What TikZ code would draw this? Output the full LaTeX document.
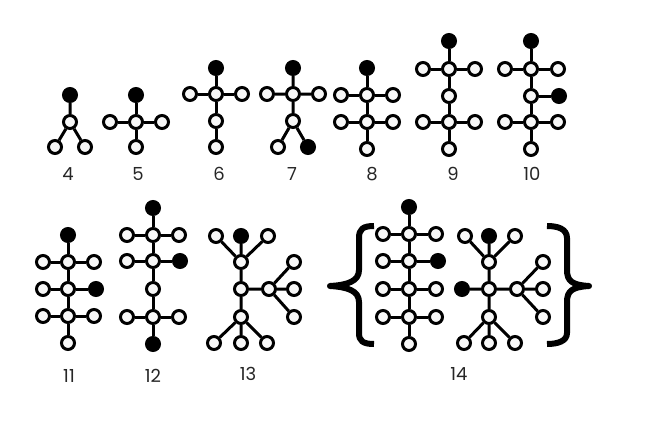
\documentclass[tikz,border=0pt]{standalone}
\usepackage{fontspec}
\setmainfont{Poppins}
\begin{document}
\begin{tikzpicture}[x=1pt,y=-1pt,
  w/.style={circle,draw=black,line width=3pt,fill=gray!6,minimum size=13pt,inner sep=0pt},
  b/.style={w,fill=black},
  e/.style={line width=3pt},
  lab/.style={font=\fontsize{18}{18}\selectfont,text=black!85},
  brace/.style={line width=6pt,line cap=butt,line join=round}]
\useasboundingbox (0,0) rectangle (654,421);
% ---- tree 4
\node[b] (a1) at (70,95) {};
\node[w] (a2) at (70,122) {};
\node[w] (a3) at (55,147) {};
\node[w] (a4) at (85,147) {};
\draw[e] (a1)--(a2) (a2)--(a3) (a2)--(a4);
\node[lab] (l4) at (68,174) {4};
% ---- tree 5
\node[b] (b1) at (136,95) {};
\node[w] (b2) at (136,122) {};
\node[w] (b3) at (110,122) {};
\node[w] (b4) at (162,122) {};
\node[w] (b5) at (136,147) {};
\draw[e] (b1)--(b2) (b2)--(b3) (b2)--(b4) (b2)--(b5);
\node[lab] (l5) at (138,174) {5};
% ---- tree 6
\node[b] (c1) at (216,68) {};
\node[w] (c2) at (216,94) {};
\node[w] (c3) at (190,94) {};
\node[w] (c4) at (242,94) {};
\node[w] (c5) at (216,121) {};
\node[w] (c6) at (216,147) {};
\draw[e] (c1)--(c2) (c2)--(c3) (c2)--(c4) (c2)--(c5) (c5)--(c6);
\node[lab] (l6) at (219,174) {6};
% ---- tree 7
\node[b] (d1) at (293,68) {};
\node[w] (d2) at (293,94) {};
\node[w] (d3) at (267,94) {};
\node[w] (d4) at (319,94) {};
\node[w] (d5) at (293,121) {};
\node[w] (d6) at (278,147) {};
\node[b] (d7) at (308,147) {};
\draw[e] (d1)--(d2) (d2)--(d3) (d2)--(d4) (d2)--(d5) (d5)--(d6) (d5)--(d7);
\node[lab] (l7) at (292,174) {7};
% ---- tree 8
\node[b] (f1) at (367,68) {};
\node[w] (f2) at (367,95) {};
\node[w] (f3) at (341,95) {};
\node[w] (f4) at (393,95) {};
\node[w] (f5) at (367,122) {};
\node[w] (f6) at (341,122) {};
\node[w] (f7) at (393,122) {};
\node[w] (f8) at (367,149) {};
\draw[e] (f1)--(f2) (f2)--(f3) (f2)--(f4) (f2)--(f5) (f5)--(f6) (f5)--(f7) (f5)--(f8);
\node[lab] (l8) at (372,174) {8};
% ---- tree 9
\node[b] (g1) at (449,41) {};
\node[w] (g2) at (449,69) {};
\node[w] (g3) at (423,69) {};
\node[w] (g4) at (475,69) {};
\node[w] (g5) at (449,96) {};
\node[w] (g6) at (449,122) {};
\node[w] (g7) at (423,122) {};
\node[w] (g8) at (475,122) {};
\node[w] (g9) at (449,149) {};
\draw[e] (g1)--(g2) (g2)--(g3) (g2)--(g4) (g2)--(g5) (g5)--(g6) (g6)--(g7) (g6)--(g8) (g6)--(g9);
\node[lab] (l9) at (453,174) {9};
% ---- tree 10
\node[b] (h1) at (531,41) {};
\node[w] (h2) at (531,69) {};
\node[w] (h3) at (505,69) {};
\node[w] (h4) at (558,69) {};
\node[w] (h5) at (531,96) {};
\node[b] (h6) at (559,96) {};
\node[w] (h7) at (531,122) {};
\node[w] (h8) at (505,122) {};
\node[w] (h9) at (558,122) {};
\node[w] (h10) at (531,149) {};
\draw[e] (h1)--(h2) (h2)--(h3) (h2)--(h4) (h2)--(h5) (h5)--(h6) (h5)--(h7) (h7)--(h8) (h7)--(h9) (h7)--(h10);
\node[lab] (l10) at (532,174) {10};
% ---- tree 11
\node[b] (i1) at (68,235) {};
\node[w] (i2) at (68,262) {};
\node[w] (i3) at (43,262) {};
\node[w] (i4) at (94,262) {};
\node[w] (i5) at (68,289) {};
\node[w] (i6) at (43,289) {};
\node[b] (i7) at (96,289) {};
\node[w] (i8) at (68,316) {};
\node[w] (i9) at (43,316) {};
\node[w] (i10) at (94,316) {};
\node[w] (i11) at (68,343) {};
\draw[e] (i1)--(i2) (i2)--(i3) (i2)--(i4) (i2)--(i5) (i5)--(i6) (i5)--(i7) (i5)--(i8) (i8)--(i9) (i8)--(i10) (i8)--(i11);
\node[lab] (l11) at (69,376) {11};
% ---- tree 12
\node[b] (j1) at (153,208) {};
\node[w] (j2) at (153,235) {};
\node[w] (j3) at (127,235) {};
\node[w] (j4) at (179,235) {};
\node[w] (j5) at (153,261) {};
\node[w] (j6) at (127,261) {};
\node[b] (j7) at (180,261) {};
\node[w] (j8) at (153,289) {};
\node[w] (j9) at (153,317) {};
\node[w] (j10) at (127,317) {};
\node[w] (j11) at (179,317) {};
\node[b] (j12) at (153,344) {};
\draw[e] (j1)--(j2) (j2)--(j3) (j2)--(j4) (j2)--(j5) (j5)--(j6) (j5)--(j7) (j5)--(j8) (j8)--(j9) (j9)--(j10) (j9)--(j11) (j9)--(j12);
\node[lab] (l12) at (153,376) {12};
% ---- tree 13
\node[w] (k1) at (216,236) {};
\node[b] (k2) at (241,236) {};
\node[w] (k3) at (268,236) {};
\node[w] (k4) at (241,262) {};
\node[w] (k5) at (241,289) {};
\node[w] (k6) at (269,289) {};
\node[w] (k7) at (294,262) {};
\node[w] (k8) at (294,289) {};
\node[w] (k9) at (294,317) {};
\node[w] (k10) at (241,317) {};
\node[w] (k11) at (214,343) {};
\node[w] (k12) at (241,343) {};
\node[w] (k13) at (267,343) {};
\draw[e] (k1)--(k4) (k2)--(k4) (k3)--(k4) (k4)--(k5) (k5)--(k6) (k6)--(k7) (k6)--(k8) (k6)--(k9) (k5)--(k10) (k10)--(k11) (k10)--(k12) (k10)--(k13);
\node[lab] (l13) at (248,374) {13};
% ---- tree 14a
\node[b] (m1) at (409,207) {};
\node[w] (m2) at (409,234) {};
\node[w] (m3) at (383,234) {};
\node[w] (m4) at (436,234) {};
\node[w] (m5) at (409,261) {};
\node[w] (m6) at (383,261) {};
\node[b] (m7) at (438,261) {};
\node[w] (m8) at (409,289) {};
\node[w] (m9) at (383,289) {};
\node[w] (m10) at (436,289) {};
\node[w] (m11) at (409,317) {};
\node[w] (m12) at (383,317) {};
\node[w] (m13) at (436,317) {};
\node[w] (m14) at (409,344) {};
\draw[e] (m1)--(m2) (m2)--(m3) (m2)--(m4) (m2)--(m5) (m5)--(m6) (m5)--(m7) (m5)--(m8) (m8)--(m9) (m8)--(m10) (m8)--(m11) (m11)--(m12) (m11)--(m13) (m11)--(m14);
% ---- tree 14b
\node[w] (n1) at (465,236) {};
\node[b] (n2) at (489,236) {};
\node[w] (n3) at (515,236) {};
\node[w] (n4) at (489,262) {};
\node[w] (n5) at (489,289) {};
\node[b] (n6) at (462,289) {};
\node[w] (n7) at (517,289) {};
\node[w] (n8) at (543,262) {};
\node[w] (n9) at (543,289) {};
\node[w] (n10) at (543,317) {};
\node[w] (n11) at (489,317) {};
\node[w] (n12) at (464,343) {};
\node[w] (n13) at (489,343) {};
\node[w] (n14) at (515,343) {};
\draw[e] (n1)--(n4) (n2)--(n4) (n3)--(n4) (n4)--(n5) (n5)--(n6) (n5)--(n7) (n7)--(n8) (n7)--(n9) (n7)--(n10) (n5)--(n11) (n11)--(n12) (n11)--(n13) (n11)--(n14);
\node[lab] (l14) at (459,374) {14};
% ---- braces
\draw[brace] (374,226) .. controls (363,226) and (359,229) .. (359,238) -- (359,270)
  .. controls (359,281) and (348,285) .. (330,286)
  .. controls (348,287) and (359,291) .. (359,302) -- (359,333)
  .. controls (359,341) and (363,344) .. (374,344);
\draw[brace] (547,226) .. controls (558,226) and (567,229) .. (567,238) -- (567,270)
  .. controls (567,281) and (572,285) .. (589,286)
  .. controls (572,287) and (567,291) .. (567,302) -- (567,333)
  .. controls (567,341) and (558,344) .. (547,344);
\end{tikzpicture}
\end{document}
